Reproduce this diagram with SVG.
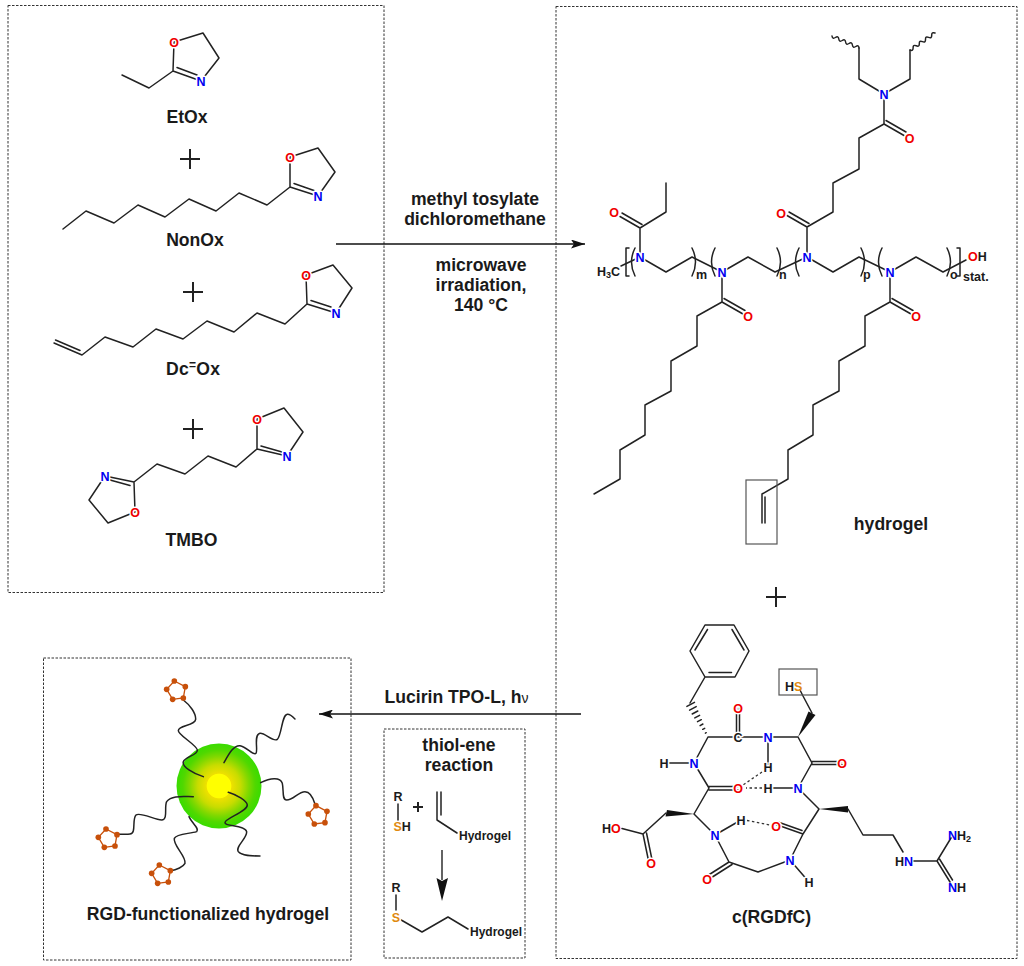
<svg xmlns="http://www.w3.org/2000/svg" width="1024" height="966" viewBox="0 0 1024 966">
<style>
text{font-family:"Liberation Sans",Arial,sans-serif;font-weight:bold;fill:#1a1a1a}
.l{font-size:17.6px;text-anchor:middle}
.a{font-size:12.5px;text-anchor:middle;paint-order:stroke;stroke:#fff;stroke-width:3px;stroke-linejoin:round}
.b{fill:none;stroke:#222;stroke-width:1.5;stroke-linejoin:round;stroke-linecap:round}
.box{fill:none;stroke:#333;stroke-width:1;stroke-dasharray:2.500 1.500}
.hl{fill:none;stroke:#555;stroke-width:1.2}
.plus{fill:none;stroke:#222;stroke-width:2}
.hb{fill:none;stroke:#333;stroke-width:1.3;stroke-dasharray:2.5 2.5}
.N{fill:#0000f0}.O{fill:#f00000}.S{fill:#e08a10}
.w{fill:#111;stroke:none}
.pent{fill:none;stroke:#c8500a;stroke-width:4}
.pd{fill:#c8500a}
.ch{fill:none;stroke:#222;stroke-width:4.5;stroke-linecap:round}
</style>
<defs>
<radialGradient id="core">
<stop offset="0.28" stop-color="#ffff00"/><stop offset="0.3" stop-color="#eee000"/><stop offset="0.5" stop-color="#c8dc00"/><stop offset="0.7" stop-color="#80d800"/><stop offset="0.85" stop-color="#50d800"/><stop offset="1" stop-color="#38dc00"/>
</radialGradient>
<marker id="ah" viewBox="0 0 14 9" refX="14" refY="4.5" markerWidth="14" markerHeight="9" markerUnits="userSpaceOnUse" orient="auto"><path d="M0,0 L14,4.5 L0,9 L3,4.5 Z" fill="#111"/></marker>
<g id="pt"><path class="pent" d="M0,0 L33,17 L27,51 L-5,55 L-23,25 Z"/><circle class="pd" r="8.5"/><circle class="pd" cx="33" cy="17" r="8.5"/><circle class="pd" cx="27" cy="51" r="8.5"/><circle class="pd" cx="-5" cy="55" r="8.5"/><circle class="pd" cx="-23" cy="25" r="8.5"/></g>
</defs>
<rect width="1024" height="966" fill="#fff"/>

<g id="boxes">
<rect class="box" x="8" y="5.500" width="376" height="587"/>
<rect class="box" x="556" y="6.500" width="461" height="952"/>
<rect class="box" x="43.500" y="658" width="307.500" height="302"/>
<rect class="box" x="384" y="729" width="141" height="229"/>
</g>

<g id="connectors">
<path d="M336,244 H585" fill="none" stroke="#111" stroke-width="1.5" marker-end="url(#ah)"/>
<path d="M581,714 H319" fill="none" stroke="#111" stroke-width="1.5" marker-end="url(#ah)"/>
<path d="M442,850 V880" fill="none" stroke="#222" stroke-width="1.4"/>
<path d="M436.500,878 L442,901 L448,878 L442,881 Z" fill="#111"/>
</g>

<g id="reaction-conditions">
<text class="l" x="475" y="205">methyl tosylate</text>
<text class="l" x="475" y="225">dichloromethane</text>
<text class="l" x="481" y="271">microwave</text>
<text class="l" x="481" y="291">irradiation,</text>
<text class="l" x="481" y="311">140 °C</text>
<text class="l" x="456.500" y="703">Lucirin TPO-L, h<tspan font-size="14" font-weight="normal">ν</tspan></text>
</g>

<g id="EtOx">
<path class="b" d="M122,75 L149,88 L173,71 L174,42 M174,42 L203,33 L219,58 L201,81 L173,71 M177,67.500 L197,75"/>
<text class="a O" x="174" y="46.500">O</text><text class="a N" x="201" y="86">N</text>
<text class="l" x="187" y="123">EtOx</text>
</g>
<path id="plus1" class="plus" d="M180,159 H200 M190,149 V169"/>

<g id="NonOx">
<path class="b" d="M63,229 L86,211 L114,223 L138,205 L165,217 L189,199 L216,211 L239,193 L267,205 L290,187 L290,157 L318,148 L335,172 L318,196 L290,187 M294,183.500 L314,190.500"/>
<text class="a O" x="290" y="162">O</text><text class="a N" x="318" y="201">N</text>
<text class="l" x="195" y="246">NonOx</text>
</g>
<path id="plus2" class="plus" d="M183,292 H203 M193,282 V302"/>

<g id="DcOx">
<path class="b" d="M54,343 L82,355 L105,337 L133,347 L156,329 L183,339 L207,321 L234,332 L257,313 L285,324 L307,304 L306,275 L333,265 L352,288 L336,313 L307,304 M311,300.500 L331,307 M55.500,340 L80,350.500"/>
<text class="a O" x="306" y="280">O</text><text class="a N" x="336" y="318">N</text>
<text class="l" x="193" y="375" textLength="54">Dc<tspan font-size="12" dy="-6">=</tspan><tspan dy="6">Ox</tspan></text>
</g>
<path id="plus3" class="plus" d="M183,429 H203 M193,419 V439"/>

<g id="TMBO">
<path class="b" d="M257,419 L284,408 L303,432 L287,456 L257,449 L257,419 M261,446 L282,452 M257,449 L236,467 L208,456 L185,474 L157,464 L134,482 L105,476 L89,500 L108,523 L135,512 L134,482 M130,485.500 L110,480"/>
<text class="a O" x="257" y="423.500">O</text><text class="a N" x="287" y="461">N</text><text class="a N" x="105" y="480.500">N</text><text class="a O" x="135" y="517">O</text>
<text class="l" x="191.500" y="546">TMBO</text>
</g>

<g id="hydrogel">
<path class="b" d="M832,36 q0.500,3.450 3.400,1.500 t3.400,1.500 t3.400,1.500 t3.400,1.500 t3.400,1.500 t3.400,1.500 t3.400,1.500 t3.200,1.500 M935,33 m-25,17 q3.250,1.450 3.100,-2.100 t3.100,-2.100 t3.100,-2.100 t3.100,-2.100 t3.100,-2.100 t3.100,-2.100 t3.100,-2.100 t3.300,-2.300"/>
<path class="b" d="M859,48 V79 L884,94 L910,79 V50 M884,94 V124 L859,138 V169 L833,183 V212 L807,227 V257 M884,124 L904,135.500 M886,120.500 L906,132 M807,227 L787,215.500 M809,223.500 L789,212"/>
<path class="b" d="M666,183 V212 L640,228 V257 M640,228 L620,216.500 M642,224.500 L622,213 M621,266 L640,257 L666,272 L692,257 L722,272 L748,257 L775,272 L807,257 L833,272 L859,257 L890,272 L916,257 L943,272 L966,260"/>
<path class="b" d="M629,248 H626 V276 H629 M957,248 H960 V276 H957 M635,248 Q628,262 635,276 M692,248 Q699,262 692,276 M715,248 Q708,262 715,276 M777,248 Q784,262 777,276 M799,248 Q792,262 799,276 M861,248 Q868,262 861,276 M882,248 Q875,262 882,276 M947,248 Q954,262 947,276"/>
<path class="b" d="M722,272 V302 L697,316 V346 L671,361 V391 L645,405 V435 L620,450 V479 L594,494 M722,302 L743,314 M724,298.500 L745,310.500"/>
<path class="b" d="M890,272 V302 L865,316 V346 L839,361 V391 L813,405 V435 L788,450 V479 L762,494 V523 M765,497 V523 M890,302 L911,314 M892,298.500 L913,310.500"/>
<rect class="hl" x="746" y="480" width="31" height="64"/>
<text class="a N" x="884" y="99">N</text><text class="a O" x="909.500" y="143">O</text><text class="a O" x="781" y="218">O</text>
<text class="a N" x="807" y="262">N</text><text class="a O" x="614" y="217">O</text><text class="a N" x="640" y="262">N</text>
<text class="a N" x="722" y="277">N</text><text class="a N" x="890" y="277">N</text>
<text class="a O" x="748" y="321">O</text><text class="a O" x="916" y="321">O</text>
<text x="597" y="276" font-size="12.500">H<tspan font-size="9" dy="2">3</tspan><tspan dy="-2">C</tspan></text>
<text x="968" y="261" font-size="12.500"><tspan class="O">O</tspan>H</text>
<text x="696" y="279" font-size="12.500">m</text><text x="779" y="279" font-size="12.500">n</text><text x="863" y="279" font-size="12.500">p</text><text x="950" y="279" font-size="12.500">o</text><text x="963" y="281" font-size="12.500">stat.</text>
<text class="l" x="891" y="530">hydrogel</text>
</g>
<path id="plus4" class="plus" d="M766,597 H786 M776,587 V607"/>

<g id="cRGDfC">
<path class="b" d="M705,625 H734 L749,651 L735,677 H705 L690,651 Z M695,650 L707.500,629.500 M732,629.500 L744,650 M709,672.500 H731.500 M705,677 L690,703"/>
<path class="b" stroke-width="1" d="M705.400,733.100 L706.200,732.700 M702.700,729.300 L704.700,728.300 M700.100,725.600 L702.900,724 M697.500,721.700 L701.300,719.700 M694.800,717.900 L699.600,715.300 M692.200,714 L697.800,711 M689.600,710.200 L696.200,706.600 M686.900,706.400 L694.500,702.400"/>
<polygon class="w" points="798,737 808.500,711.500 815.500,715"/>
<polygon class="w" points="694,814 667,810 665.500,816.500"/>
<polygon class="w" points="819,809 848,806 848,812.500"/>
<path class="b" d="M708,737 H768 H798 L812,763 L798,788 H768 M736.500,737 V708 M739.500,737 V708 M812,713 L803,696 L800,690 M812,761.500 H842 M812,764.500 H842 M708,737 L694,763 L709,788 L694,814 M694,763 H664 M709,786.500 H738 M709,790 H738 M768,737 V767 M694,814 L715,835 L729,862 L758,872 L790,860 L803,834 L819,809 L798,788 M715,835 L741,820 M790,860 L809,882 M729,862 L707,876 M732,864.500 L710,878.500 M803,834 L776,824.500 M802,830.500 L778,822 M666,813 L643,834 L622,828.500 M643,834 L649,863 M646.500,833 L652.500,862 M848,809 L863,835 H893 L903,852 M914,861 H937 L951,838 M937,861 L950,882 M939.500,859 L952.500,880"/>
<path class="hb" d="M762,772 L743,785 M762,788 L746,788 M747,820.500 L770,825"/>
<rect class="hl" x="779" y="669" width="38" height="26"/>
<text x="785" y="690.500" font-size="12.500">H<tspan class="S">S</tspan></text>
<text class="a O" x="738" y="712.500">O</text><text class="a" x="738" y="741.500">C</text><text class="a N" x="768" y="741.500">N</text>
<text class="a O" x="842" y="767.500">O</text><text class="a N" x="694" y="767.500">N</text><text class="a" x="664" y="767.500">H</text>
<text class="a" x="768" y="771.500">H</text><text class="a O" x="738" y="792.500">O</text><text class="a" x="768" y="792.500">H</text><text class="a N" x="798" y="792.500">N</text>
<text class="a" x="741" y="825">H</text><text class="a O" x="776" y="830.500">O</text><text class="a N" x="715" y="839.500">N</text>
<text class="a N" x="790" y="864.500">N</text><text class="a" x="809" y="886.500">H</text><text class="a O" x="707" y="884">O</text><text class="a O" x="651" y="868">O</text>
<text x="602" y="832.500" font-size="12.500">H<tspan class="O">O</tspan></text>
<text x="895" y="865.500" font-size="12.500">H<tspan class="N">N</tspan></text>
<text x="948" y="839.500" font-size="12.500"><tspan class="N">N</tspan>H<tspan font-size="9" dy="2">2</tspan></text>
<text x="948" y="891.500" font-size="12.500"><tspan class="N">N</tspan>H</text>
<text class="l" x="771.500" y="923">c(RGDfC)</text>
</g>

<g id="RGD-functionalized-hydrogel">
<circle cx="219" cy="786" r="42.500" fill="url(#core)"/>
<g transform="translate(40,650) scale(0.3333)">
<path class="ch" d="M490,380 C460,370 425,350 430,335 C435,320 475,315 472,300 C470,285 415,255 415,242 C415,225 465,228 467,208 C468,190 450,165 430,150"/>
<path class="ch" d="M552,338 C565,315 580,285 600,287 C620,290 640,318 648,310 C655,300 640,255 660,250 C675,248 700,278 712,268 C725,258 725,195 742,193 C750,192 758,200 765,207"/>
<path class="ch" d="M662,398 C690,385 720,380 727,400 C732,420 725,450 740,450 C760,450 775,425 795,425 C810,425 820,445 825,462"/>
<path class="ch" d="M565,427 C590,435 620,450 622,465 C622,485 555,505 555,518 C555,530 615,525 620,545 C622,565 585,590 595,605 C605,618 635,618 660,618"/>
<path class="ch" d="M460,440 C430,440 395,435 380,455 C372,470 385,510 365,510 C345,510 300,485 288,495 C275,510 290,550 270,552 C260,553 250,553 235,553"/>
<path class="ch" d="M447,500 C455,520 480,535 470,545 C450,552 410,550 403,565 C398,585 440,620 435,640 C430,650 410,660 392,662"/>
<use href="#pt" x="403" y="93"/><use href="#pt" x="828" y="467"/><use href="#pt" x="198" y="537"/><use href="#pt" x="358" y="645"/>
</g>
<text class="l" x="208" y="920">RGD-functionalized hydrogel</text>
</g>

<g id="thiol-ene">
<text class="l" x="459" y="751">thiol-ene</text>
<text class="l" x="459" y="771">reaction</text>
<path class="b" d="M398,804 V820 M437,792 V820 L457,833 M441,792 V815 M396,895 V910 M396,917 L422,932 L448,917 L468,929"/>
<path class="plus" stroke-width="1.2" d="M413,807 H423 M418,802 V812"/>
<text class="a" x="398" y="801">R</text><text x="393.500" y="831" font-size="12.500"><tspan class="S">S</tspan>H</text>
<text x="459" y="840" font-size="12">Hydrogel</text>
<text class="a" x="396" y="892">R</text><text class="a S" x="396" y="922">S</text>
<text x="470" y="936" font-size="12">Hydrogel</text>
</g>
</svg>
